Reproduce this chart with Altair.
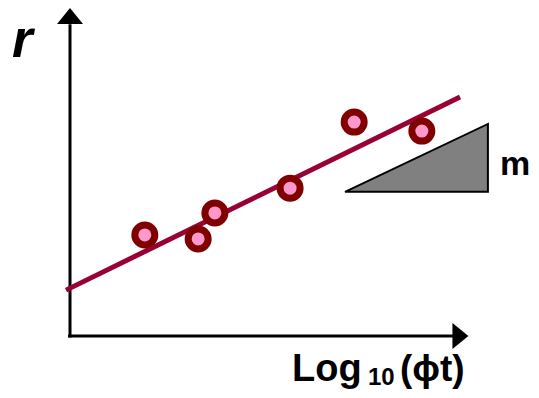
import altair as alt
import pandas as pd

# data (abstract units, origin at axis corner)
point_x = [1.88, 3.22, 3.64, 5.53, 7.14, 8.84]
point_y = [3.26, 3.13, 3.97, 4.77, 6.90, 6.61]
fit_x = [-0.10, 9.80]
fit_y = [1.48, 7.71]
slope_x = [6.91, 10.50]
slope_y = [4.65, 6.84]
slope_base = 4.65
axis_x_end = 9.62
axis_y_end = 10.06
arrow_x_tip = 9.81
arrow_y_tip = 10.32

W, H = 523, 382
PX_X = 39.8   # pixels per unit
PX_Y = 31.0
X0, Y0 = 62, 328  # chart-pixel position of the axis corner
XD = [-X0 / PX_X, (W - X0) / PX_X]
YD = [-(H - Y0) / PX_Y, Y0 / PX_Y]
xs = alt.Scale(domain=XD, nice=False, zero=False)
ys = alt.Scale(domain=YD, nice=False, zero=False)
X = lambda f: alt.X(f, type="quantitative", scale=xs, axis=None)
Y = lambda f: alt.Y(f, type="quantitative", scale=ys, axis=None)

pts = pd.DataFrame({"x": point_x, "y": point_y})
fit = pd.DataFrame({"x": fit_x, "y": fit_y})
tri = pd.DataFrame({"x": slope_x, "y": slope_y, "y2": [slope_base] * len(slope_x)})

vaxis = alt.Chart(pd.DataFrame({"x": [0.0], "y": [-0.05], "y2": [axis_y_end]})).mark_rule(
    color="black", strokeWidth=3).encode(x=X("x"), y=Y("y"), y2="y2")
haxis = alt.Chart(pd.DataFrame({"x": [-0.05], "x2": [axis_x_end], "y": [0.0]})).mark_rule(
    color="black", strokeWidth=3).encode(x=X("x"), x2="x2", y=Y("y"))
up_head = alt.Chart(pd.DataFrame({"x": [0.0], "y": [arrow_y_tip]})).mark_point(
    shape="M0,-0.615L-1,0.615L1,0.615Z", filled=True, color="black", opacity=1, size=676
).encode(x=X("x"), y=Y("y"))
right_head = alt.Chart(pd.DataFrame({"x": [arrow_x_tip], "y": [0.0]})).mark_point(
    shape="M0.615,0L-0.615,-1L-0.615,1Z", filled=True, color="black", opacity=1, size=676
).encode(x=X("x"), y=Y("y"))

line = alt.Chart(fit).mark_line(color="#990033", strokeWidth=5).encode(x=X("x"), y=Y("y"))
tri_mark = alt.Chart(tri).mark_area(
    color="#808080", fill="#808080", stroke="black", strokeWidth=2, opacity=1, line=False
).encode(x=X("x"), y=Y("y"), y2="y2")
circles = alt.Chart(pts).mark_point(
    shape="circle", filled=True, fill="#FF99CC", stroke="#800000", strokeWidth=7,
    size=400, opacity=1, fillOpacity=1, strokeOpacity=1
).encode(x=X("x"), y=Y("y"))

def label(txt, x, y, size, style="normal"):
    return alt.Chart(pd.DataFrame({"t": [txt]})).mark_text(
        text=txt, font="Liberation Sans", fontWeight="bold", fontStyle=style,
        fontSize=size, align="left", baseline="alphabetic", color="black"
    ).encode(x=alt.value(x), y=alt.value(y))

r_lab = label("r", 4, 49, 53, "italic")
log_lab = label("Log", 284, 373, 38)
sub_lab = label("10", 360, 377, 24)
phi_lab = label("(ϕt)", 392, 373, 37)
m_lab = label("m", 492, 167, 34)

chart = alt.layer(
    vaxis, haxis, up_head, right_head, tri_mark, line, circles,
    r_lab, log_lab, sub_lab, phi_lab, m_lab
).properties(
    width=W, height=H, padding=0, autosize=alt.AutoSizeParams(type="none")
).configure_view(stroke=None)

chart.save("out.html", embed_options={"renderer": "svg", "actions": False})
